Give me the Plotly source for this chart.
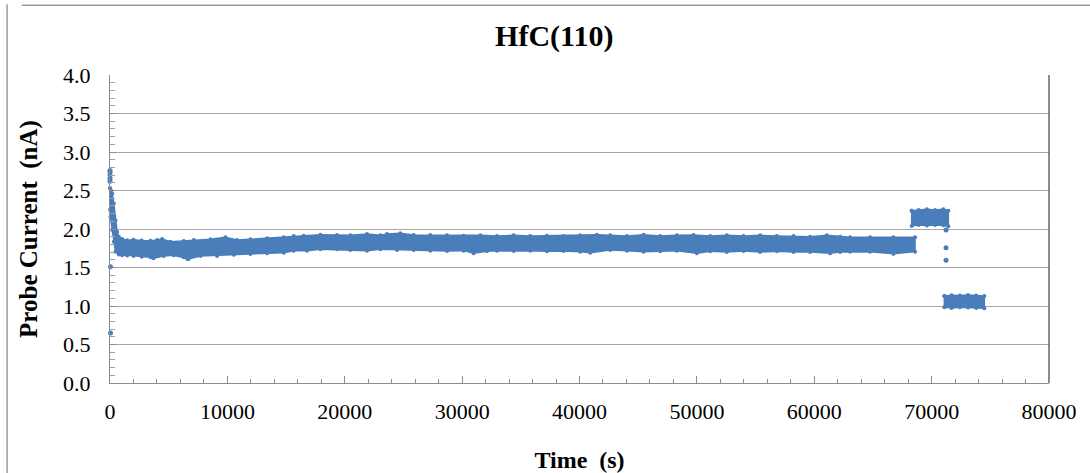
import plotly.graph_objects as go

# ---- data (time in s, probe current in nA) ----
# upper envelope of the dense measurement band (t, I)
upper_t = [0, 100, 185, 327, 468, 610, 752, 1036, 1462, 2000, 2700, 3449, 4017, 4443, 5152,
           6287, 7139, 8558, 9835, 10828, 11964, 13383, 14802, 15653, 16505, 17924, 19343,
           20479, 21898, 23033, 23601, 24736, 25871, 27290, 28710, 30129, 31548, 32967,
           34386, 35805, 37224, 38644, 40063, 41482, 42618, 44037, 45456, 46875, 48295,
           49714, 51133, 52553, 53972, 55391, 56810, 58230, 59649, 61068, 62204, 63053,
           64756, 66743, 68588]
upper_i = [2.53, 2.50, 2.46, 2.33, 2.11, 1.96, 1.90, 1.87, 1.855, 1.86, 1.85, 1.848, 1.857,
           1.870, 1.835, 1.844, 1.857, 1.866, 1.892, 1.857, 1.866, 1.879, 1.892, 1.909,
           1.913, 1.926, 1.922, 1.918, 1.935, 1.918, 1.935, 1.944, 1.922, 1.922, 1.918,
           1.913, 1.918, 1.909, 1.918, 1.909, 1.913, 1.909, 1.918, 1.926, 1.918, 1.909,
           1.926, 1.909, 1.918, 1.922, 1.909, 1.918, 1.909, 1.918, 1.909, 1.909, 1.900,
           1.918, 1.900, 1.892, 1.892, 1.892, 1.892]
# lower envelope of the same band
lower_t = [0, 43, 185, 327, 468, 752, 1036, 1462, 2000, 2700, 3449, 3700, 4584, 5436, 6287,
           6571, 6700, 7706, 9125, 10544, 11964, 13383, 14802, 15653, 16789, 17924, 19343,
           20479, 21898, 23033, 24452, 25871, 27290, 28710, 30129, 30980, 32116, 32967,
           34386, 35805, 37224, 38644, 40063, 40914, 42618, 44037, 45456, 46875, 48295,
           49998, 51133, 52553, 53972, 55391, 56810, 58230, 59649, 61352, 62204, 63053,
           64756, 66743, 68588]
lower_i = [2.25, 2.16, 1.99, 1.835, 1.705, 1.67, 1.66, 1.655, 1.65, 1.64, 1.632, 1.62, 1.649,
           1.658, 1.632, 1.615, 1.61, 1.649, 1.649, 1.667, 1.675, 1.684, 1.693, 1.719,
           1.719, 1.736, 1.736, 1.727, 1.719, 1.736, 1.727, 1.727, 1.719, 1.714, 1.719,
           1.684, 1.710, 1.719, 1.714, 1.719, 1.710, 1.714, 1.706, 1.693, 1.727, 1.719,
           1.706, 1.710, 1.719, 1.684, 1.710, 1.701, 1.714, 1.701, 1.710, 1.701, 1.701,
           1.684, 1.701, 1.706, 1.706, 1.677, 1.706]

# high plateau segment (t, I envelope)
high_t = [68303, 68900, 69600, 70300, 71000, 71425]
high_top = [2.238, 2.247, 2.255, 2.247, 2.255, 2.238]
high_bot = [2.040, 2.052, 2.045, 2.052, 2.048, 2.035]

# low plateau segment
low_t = [71084, 71700, 72400, 73100, 73800, 74490]
low_top = [1.130, 1.140, 1.135, 1.143, 1.135, 1.130]
low_bot = [0.985, 0.975, 0.985, 0.980, 0.975, 0.970]

# isolated points
single_t = [0, 0, 0, 0, 0, 43, 43, 71226, 71226, 71226]
single_i = [2.62, 2.66, 2.70, 2.74, 2.76, 1.51, 0.65, 1.987, 1.758, 1.593]

x_ticks = [0, 10000, 20000, 30000, 40000, 50000, 60000, 70000, 80000]
y_ticks = [0.0, 0.5, 1.0, 1.5, 2.0, 2.5, 3.0, 3.5, 4.0]

BLUE = "#4a7ebb"
FONT = "Liberation Serif"

fig = go.Figure()


def band(ts_up, vs_up, ts_lo, vs_lo):
    xs = list(ts_up) + list(reversed(ts_lo))
    ys = list(vs_up) + list(reversed(vs_lo))
    xs.append(xs[0])
    ys.append(ys[0])
    fig.add_trace(go.Scatter(
        x=xs, y=ys, mode="lines+markers", fill="toself", fillcolor=BLUE,
        line=dict(color=BLUE, width=1.5), marker=dict(color=BLUE, size=4),
        hoverinfo="skip", showlegend=False, cliponaxis=False))


band(upper_t, upper_i, lower_t, lower_i)
band(high_t, high_top, high_t, high_bot)
band(low_t, low_top, low_t, low_bot)

fig.add_trace(go.Scatter(
    x=single_t, y=single_i, mode="markers",
    marker=dict(color=BLUE, size=5), showlegend=False, cliponaxis=False))

fig.update_layout(
    width=1090, height=473,
    margin=dict(l=110, r=41, t=75, b=90, autoexpand=False),
    paper_bgcolor="white", plot_bgcolor="white",
    font=dict(family=FONT, size=22, color="black"),
    title=dict(text="<b>HfC(110)</b>", x=0.5085, xanchor="center", y=0.926, yanchor="middle",
               font=dict(family=FONT, size=30, color="black")),
    showlegend=False,
)

fig.update_xaxes(
    range=[0, 80000], tickvals=x_ticks, ticktext=[str(v) for v in x_ticks],
    ticks="inside", ticklen=7, tickcolor="#8c8c8c", tickwidth=1,
    minor=dict(dtick=2000, ticks="inside", ticklen=4, tickcolor="#8c8c8c", showgrid=False),
    showgrid=False, zeroline=False, automargin=False,
    showline=True, linecolor="#8c8c8c", linewidth=1,
    ticklabelstandoff=9,
    title=dict(text="<b>Time\u00a0\u00a0(s)</b>", standoff=28, font=dict(family=FONT, size=24)),
    tickfont=dict(family=FONT, size=22),
)

fig.update_yaxes(
    range=[0, 4], tickvals=y_ticks, ticktext=[f"{v:.1f}" for v in y_ticks],
    ticks="inside", ticklen=6, tickcolor="#8c8c8c", tickwidth=1,
    minor=dict(dtick=0.1, ticks="inside", ticklen=5, tickcolor="#a0a0a0", showgrid=False),
    showgrid=True, gridcolor="#a6a6a6", gridwidth=1, zeroline=False, automargin=False,
    showline=True, linecolor="#8c8c8c", linewidth=1,
    ticklabelstandoff=14,
    title=dict(text="<b>Probe Current\u00a0\u00a0(nA)</b>", standoff=18, font=dict(family=FONT, size=25)),
    tickfont=dict(family=FONT, size=22),
)

# plot-area right border and outer chart frame
fig.add_shape(type="line", xref="x domain", yref="y domain", x0=1, x1=1, y0=0, y1=1,
              line=dict(color="#404040", width=1.2))
fig.add_shape(type="line", xref="paper", yref="paper", x0=-0.094, x1=1.05, y0=1.2265, y1=1.2265,
              line=dict(color="#9a9a9a", width=1.5))
fig.add_shape(type="line", xref="paper", yref="paper", x0=-0.1096, x1=-0.1096, y0=-0.35, y1=1.23,
              line=dict(color="#9a9a9a", width=1.5))

fig.write_html("out.html", config={"displayModeBar": False},
               post_script="document.body.style.margin='0';document.body.style.padding='0';")
